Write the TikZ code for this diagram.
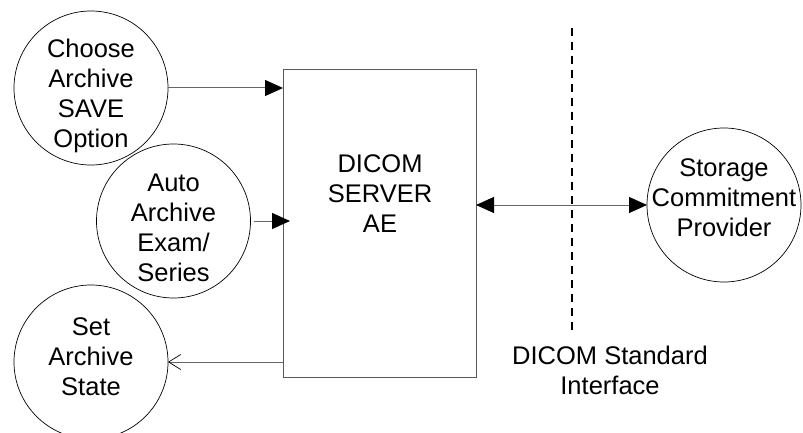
\documentclass[tikz,border=0pt]{standalone}
\usepackage{fontspec}
\setmainfont{Liberation Sans}
\usetikzlibrary{arrows.meta}
\begin{document}
\begin{tikzpicture}[x=1pt, y=-1pt, font=\fontsize{25.5}{30}\selectfont,
	every node/.style={align=center, inner sep=0pt, outer sep=0pt},
	bubble/.style={draw, circle, minimum size=154pt, line width=0.7pt},
	aebox/.style={draw=black!65, line width=1pt, minimum width=193pt, minimum height=307pt},
	conn/.style={draw=black!60, line width=1pt},
	fullhead/.style={-{Triangle[length=18pt, width=16pt, fill=black, color=black]}},
	openhead/.style={-{Straight Barb[length=12pt, width=15pt, line width=0.7pt, color=black]}}]
	\useasboundingbox (0, 0) rectangle (803, 433);
	
	% Khoi trung tam
	\node[aebox] (ae) at (379.5, 223.5) {};
	\node (aetext) at (380, 194) {DICOM\\SERVER\\AE};
	
	% Cac vong tron ben trai
	\node[bubble] (save) at (91, 88) {};
	\node (savetext) at ([yshift=-8pt]save) {Choose\\Archive\\SAVE\\Option};
	\node[bubble] (auto) at (173.5, 221) {};
	\node (autotext) at ([yshift=-7pt]auto) {Auto\\Archive\\Exam/\\Series};
	\node[bubble] (state) at (91, 362) {};
	\node (statetext) at ([yshift=5pt]state) {Set\\Archive\\State};
	
	% Vong tron ben phai
	\node[bubble] (commit) at (724, 205) {};
	\node (committext) at ([yshift=7pt]commit) {Storage\\Commitment\\Provider};
	
	% Duong giao dien
	\coordinate (itop) at (572, 28);
	\coordinate (ibot) at (572, 332);
	\draw[line width=2.2pt, dash pattern=on 8pt off 6pt] (itop) -- (ibot);
	\node (iface) at (610, 370) {DICOM Standard\\Interface};
	
	% Mui ten
	\draw[conn, fullhead] (save.east) -- (save.east -| ae.west);
	\draw[conn, fullhead] ([xshift=3pt]auto.east) -- ([xshift=7pt]auto.east -| ae.west);
	\draw[conn, openhead] (state.east -| ae.west) -- (state.east);
	\draw[conn, {Triangle[length=18pt, width=16pt, color=black]}-{Triangle[length=18pt, width=16pt, color=black]}] (commit.west -| ae.east) -- (commit.west);
\end{tikzpicture}
\end{document}
